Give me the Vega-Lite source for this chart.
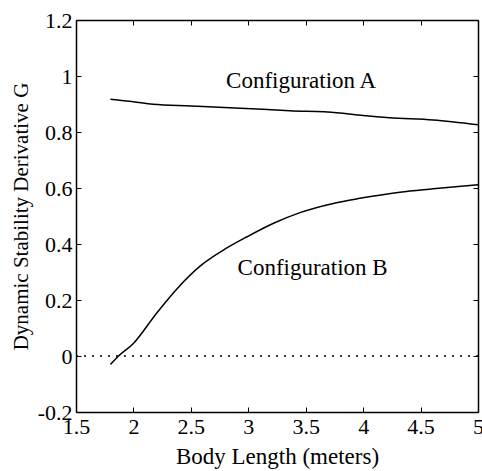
{
  "$schema": "https://vega.github.io/schema/vega-lite/v6.json",
  "width": 402,
  "height": 392,
  "autosize": "none",
  "padding": {"left": 76, "top": 20, "right": 4, "bottom": 59},
  "background": "white",
  "config": {
    "font": "Liberation Serif",
    "view": {"stroke": null},
    "axis": {
      "grid": false,
      "domainColor": "black",
      "domainWidth": 1.5,
      "tickColor": "black",
      "tickWidth": 1,
      "tickSize": -5,
      "labelFont": "Liberation Serif",
      "labelFontSize": 22,
      "labelColor": "black",
      "labelFlush": false,
      "labelOverlap": false,
      "labelBound": false,
      "titleFont": "Liberation Serif",
      "titleFontSize": 23,
      "titleFontWeight": "normal",
      "titleColor": "black"
    }
  },
  "datasets": {
    "curves": [
      {"config": "A", "length": 1.8, "G": 0.917},
      {"config": "A", "length": 2.0, "G": 0.908},
      {"config": "A", "length": 2.17, "G": 0.899},
      {"config": "A", "length": 2.5, "G": 0.893},
      {"config": "A", "length": 2.93, "G": 0.885},
      {"config": "A", "length": 3.36, "G": 0.876},
      {"config": "A", "length": 3.77, "G": 0.869},
      {"config": "A", "length": 4.0, "G": 0.859},
      {"config": "A", "length": 4.23, "G": 0.851},
      {"config": "A", "length": 4.61, "G": 0.843},
      {"config": "A", "length": 5.0, "G": 0.826},
      {"config": "B", "length": 1.8, "G": -0.03},
      {"config": "B", "length": 1.87, "G": 0.0},
      {"config": "B", "length": 2.0, "G": 0.045},
      {"config": "B", "length": 2.2, "G": 0.152},
      {"config": "B", "length": 2.39, "G": 0.245},
      {"config": "B", "length": 2.58, "G": 0.321},
      {"config": "B", "length": 2.81, "G": 0.385},
      {"config": "B", "length": 2.99, "G": 0.426},
      {"config": "B", "length": 3.22, "G": 0.474},
      {"config": "B", "length": 3.45, "G": 0.512},
      {"config": "B", "length": 3.74, "G": 0.545},
      {"config": "B", "length": 3.97, "G": 0.563},
      {"config": "B", "length": 4.32, "G": 0.585},
      {"config": "B", "length": 4.61, "G": 0.597},
      {"config": "B", "length": 5.0, "G": 0.612}
    ],
    "labels": [
      {"text": "Configuration A", "length": 3.46, "G": 0.957},
      {"text": "Configuration B", "length": 3.56, "G": 0.289}
    ],
    "zero": [{"G": 0}]
  },
  "layer": [
    {
      "data": {"name": "zero"},
      "mark": {"type": "rule", "color": "black", "strokeWidth": 1.3, "strokeDash": [2, 6]},
      "encoding": {
        "y": {"field": "G", "type": "quantitative", "scale": {"domain": [-0.2, 1.2], "nice": false}, "axis": null}
      }
    },
    {
      "data": {"name": "curves"},
      "mark": {"type": "line", "color": "black", "strokeWidth": 1.5, "interpolate": "monotone"},
      "encoding": {
        "x": {
          "field": "length", "type": "quantitative",
          "scale": {"domain": [1.5, 5], "nice": false, "zero": false},
          "axis": {
            "orient": "bottom",
            "title": "Body Length (meters)",
            "values": [1.5, 2, 2.5, 3, 3.5, 4, 4.5, 5],
            "labelExpr": "replace(format(datum.value, '.1~f'), '\u2212', '-')",
            "labelPadding": 9,
            "titlePadding": 8
          }
        },
        "y": {
          "field": "G", "type": "quantitative",
          "scale": {"domain": [-0.2, 1.2], "nice": false, "zero": false},
          "axis": {
            "orient": "left",
            "title": "Dynamic Stability Derivative G",
            "titleFontSize": 21,
            "values": [-0.2, 0, 0.2, 0.4, 0.6, 0.8, 1, 1.2],
            "labelExpr": "replace(format(datum.value, '.1~f'), '\u2212', '-')",
            "labelPadding": 9,
            "titlePadding": 6
          }
        },
        "detail": {"field": "config", "type": "nominal"}
      }
    },
    {
      "data": {"name": "labels"},
      "mark": {"type": "text", "fontSize": 23, "align": "center", "baseline": "alphabetic", "color": "black", "font": "Liberation Serif"},
      "encoding": {
        "x": {
          "field": "length", "type": "quantitative",
          "scale": {"domain": [1.5, 5], "nice": false, "zero": false},
          "axis": {"orient": "top", "title": null, "labels": false, "values": [1.5, 2, 2.5, 3, 3.5, 4, 4.5, 5]}
        },
        "y": {
          "field": "G", "type": "quantitative",
          "scale": {"domain": [-0.2, 1.2], "nice": false, "zero": false},
          "axis": {"orient": "right", "title": null, "labels": false, "values": [-0.2, 0, 0.2, 0.4, 0.6, 0.8, 1, 1.2]}
        },
        "text": {"field": "text", "type": "nominal"}
      }
    }
  ],
  "resolve": {"axis": {"x": "independent", "y": "independent"}}
}
